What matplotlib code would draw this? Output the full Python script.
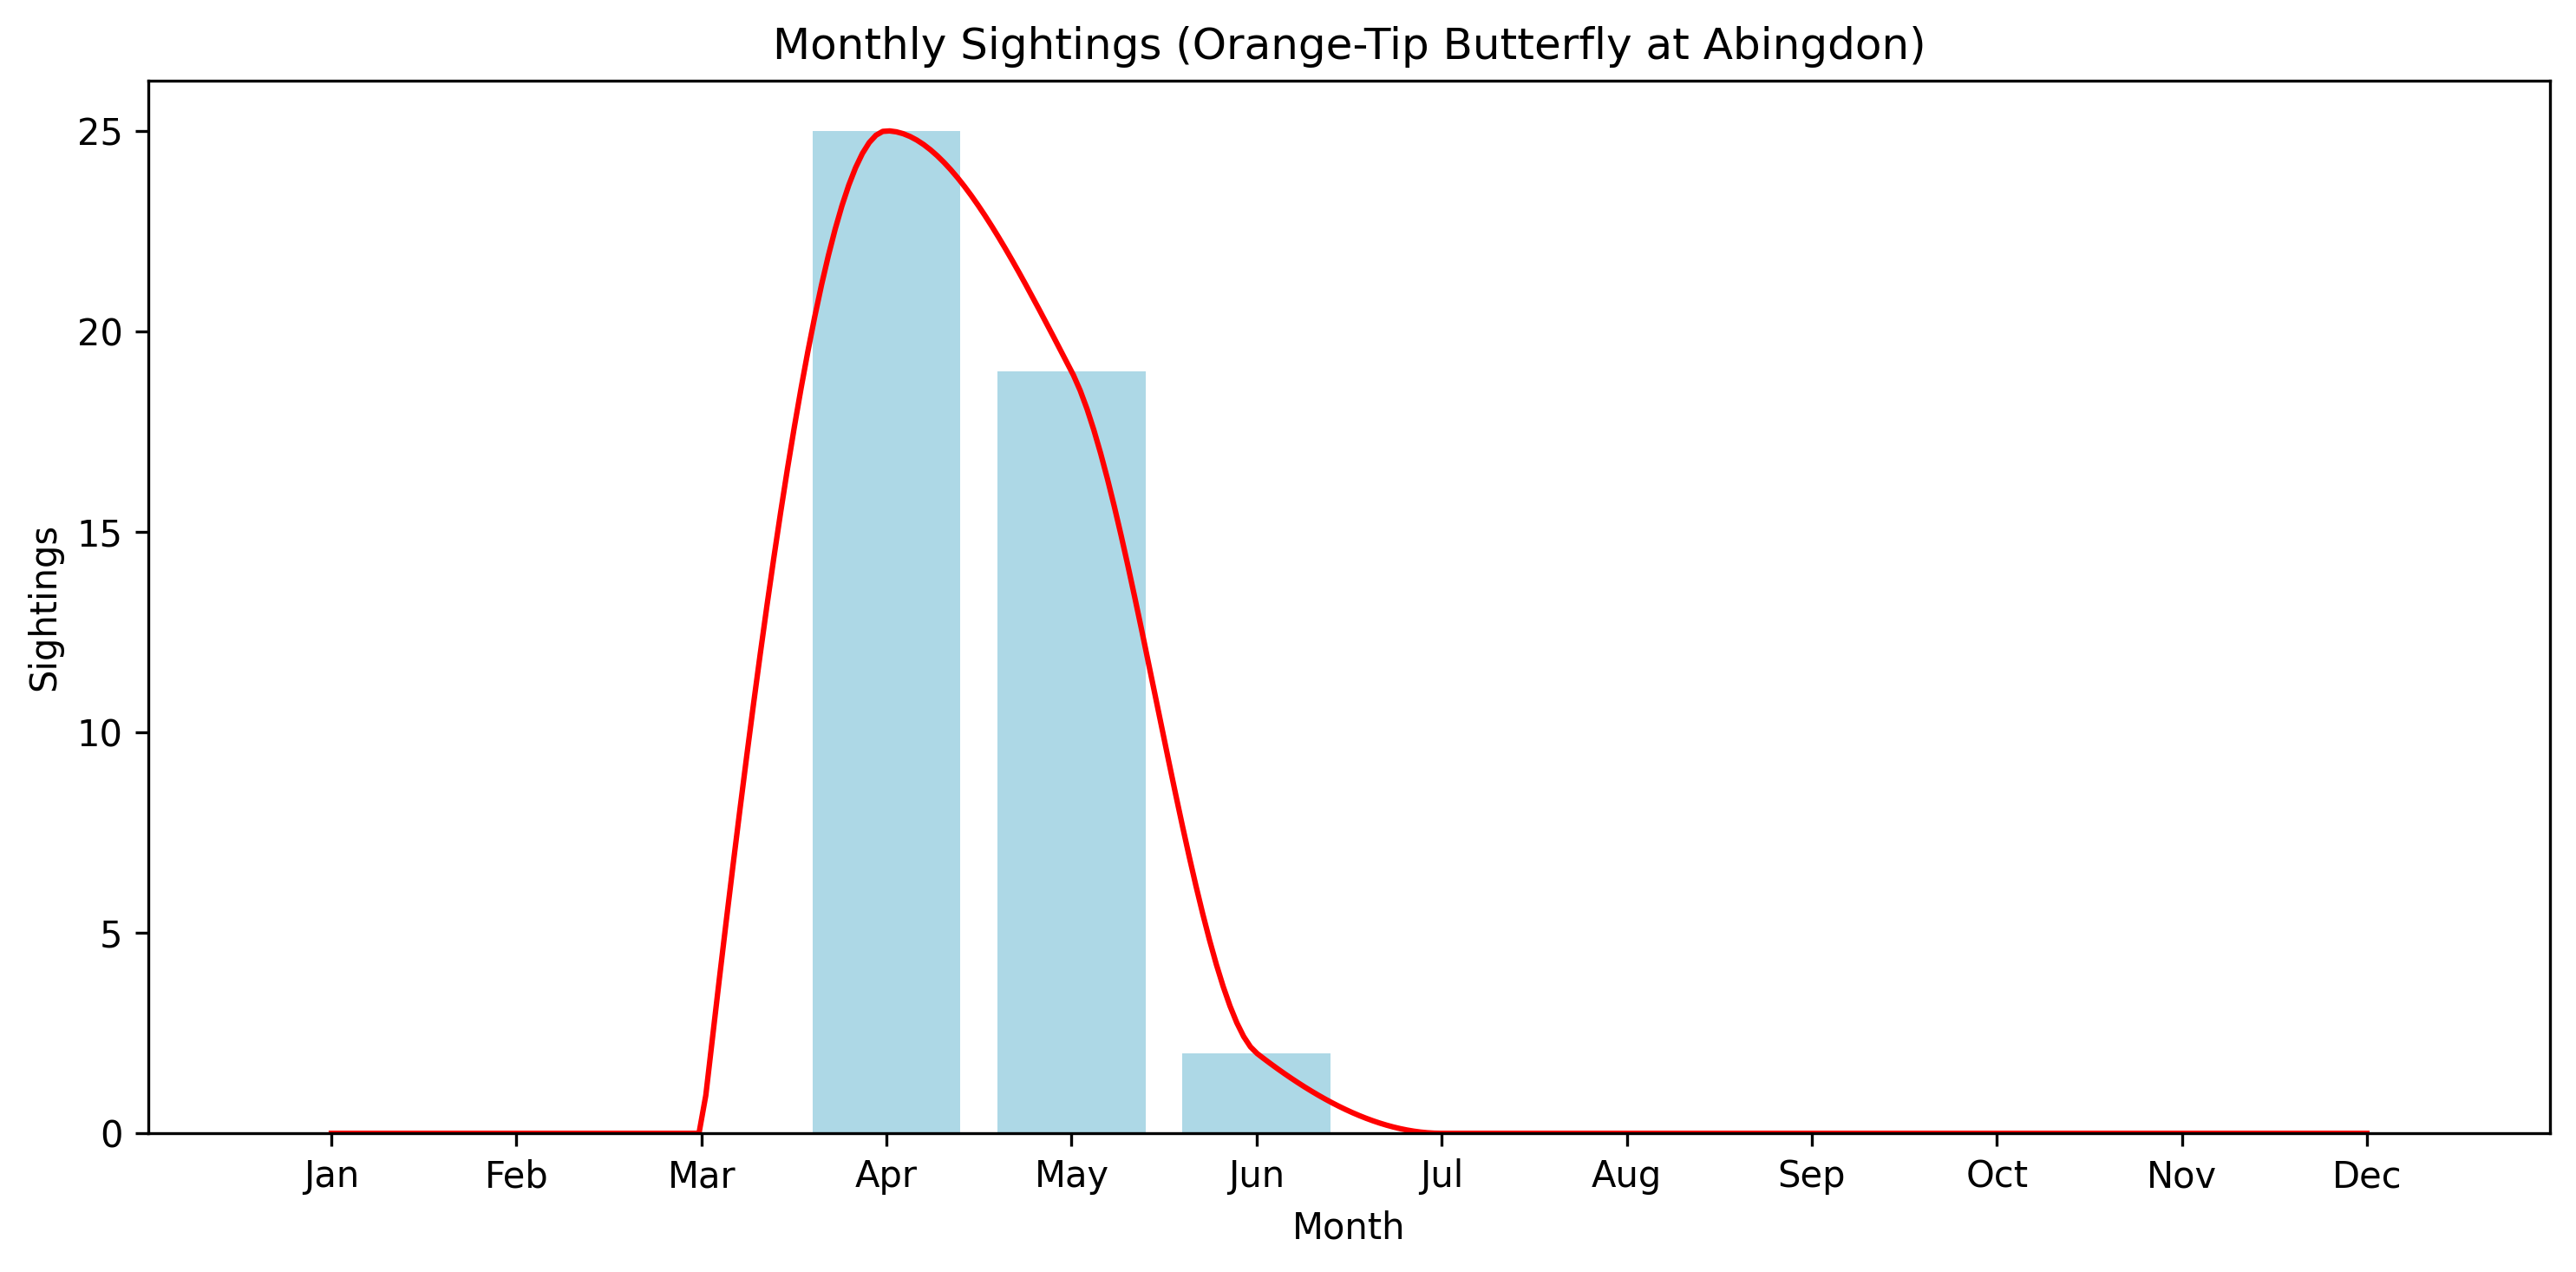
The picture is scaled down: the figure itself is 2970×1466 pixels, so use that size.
import numpy as np
import matplotlib
matplotlib.use("Agg")
import matplotlib.pyplot as plt

# ---- data ----
months = ["Jan", "Feb", "Mar", "Apr", "May", "Jun",
          "Jul", "Aug", "Sep", "Oct", "Nov", "Dec"]
sightings = [0, 0, 0, 25, 19, 2, 0, 0, 0, 0, 0, 0]

title = "Monthly Sightings (Orange-Tip Butterfly at Abingdon)"
x_label = "Month"
y_label = "Sightings"


def _pchip_edge(h0, h1, m0, m1):
    d = ((2 * h0 + h1) * m0 - h0 * m1) / (h0 + h1)
    if np.sign(d) != np.sign(m0):
        d = 0.0
    elif np.sign(m0) != np.sign(m1) and abs(d) > 3 * abs(m0):
        d = 3 * m0
    return d


def pchip(x, y, xs):
    x = np.asarray(x, float)
    y = np.asarray(y, float)
    h = np.diff(x)
    m = np.diff(y) / h
    n = len(x)
    d = np.zeros(n)
    for k in range(1, n - 1):
        if m[k - 1] * m[k] <= 0:
            d[k] = 0.0
        else:
            w1 = 2 * h[k] + h[k - 1]
            w2 = h[k] + 2 * h[k - 1]
            d[k] = (w1 + w2) / (w1 / m[k - 1] + w2 / m[k])
    d[0] = _pchip_edge(h[0], h[1], m[0], m[1])
    d[-1] = _pchip_edge(h[-1], h[-2], m[-1], m[-2])
    idx = np.clip(np.searchsorted(x, xs, side="right") - 1, 0, n - 2)
    hh = h[idx]
    t = (xs - x[idx]) / hh
    h00 = 2 * t**3 - 3 * t**2 + 1
    h10 = t**3 - 2 * t**2 + t
    h01 = -2 * t**3 + 3 * t**2
    h11 = t**3 - t**2
    return (h00 * y[idx] + h10 * hh * d[idx]
            + h01 * y[idx + 1] + h11 * hh * d[idx + 1])


x = np.arange(1, len(months) + 1)
y = np.array(sightings, float)

# smooth curve: fitted from the month before the first sighting onwards
start = max(int(np.argmax(y > 0)) - 1, 0)
xs = np.linspace(x[0], x[-1], 300)
ys = np.clip(pchip(x[start:], y[start:], xs), 0, None)

fig, ax = plt.subplots(figsize=(10, 5))
ax.bar(x, y, color="lightblue")
ax.plot(xs, ys, color="red")
ax.set_xticks(x)
ax.set_xticklabels(months)
ax.set_title(title)
ax.set_xlabel(x_label)
ax.set_ylabel(y_label)
fig.tight_layout()
fig.savefig("out.png", dpi=300, bbox_inches="tight")
